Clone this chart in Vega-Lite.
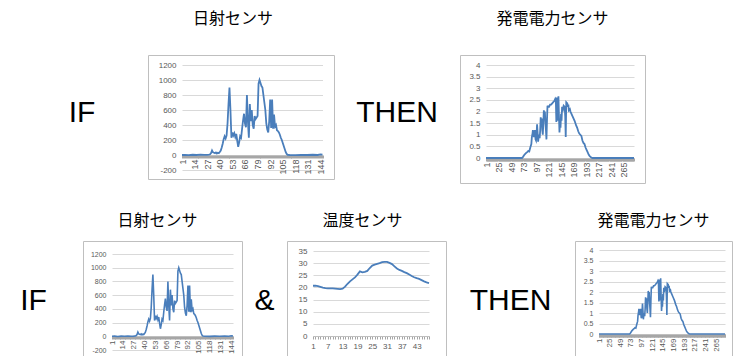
{
  "$schema": "https://vega.github.io/schema/vega-lite/v6.json",
  "padding": {"left": 0, "top": 10, "right": 0, "bottom": 0},
  "background": "white",
  "config": {
    "view": {"stroke": "#bfbfbf", "strokeWidth": 1},
    "axis": {"labelFont": "Liberation Sans", "labelColor": "#595959", "gridColor": "#d9d9d9", "domainColor": "#bfbfbf", "tickColor": "#a6a6a6"},
    "title": {"font": "Noto Sans CJK JP", "fontSize": 16, "fontWeight": "normal", "color": "#000000", "anchor": "middle"}
  },
  "datasets": {
    "solar": [
      {"i": 1, "v": 0}, {"i": 4, "v": 2}, {"i": 8, "v": -2}, {"i": 12, "v": 3}, {"i": 16, "v": 0}, {"i": 20, "v": 4}, {"i": 24, "v": 1}, {"i": 27, "v": 2}, {"i": 29, "v": 5}, {"i": 30, "v": 10},
      {"i": 31, "v": 25}, {"i": 32, "v": 60}, {"i": 33, "v": 35}, {"i": 34, "v": 30}, {"i": 35, "v": 25}, {"i": 36, "v": 35}, {"i": 37, "v": 20}, {"i": 38, "v": 30}, {"i": 39, "v": 25}, {"i": 40, "v": 40},
      {"i": 41, "v": 60}, {"i": 42, "v": 100}, {"i": 43, "v": 150}, {"i": 44, "v": 210}, {"i": 45, "v": 250}, {"i": 46, "v": 220}, {"i": 47, "v": 260}, {"i": 48, "v": 420}, {"i": 49, "v": 680}, {"i": 50, "v": 900},
      {"i": 51, "v": 600}, {"i": 52, "v": 230}, {"i": 53, "v": 300}, {"i": 54, "v": 260}, {"i": 55, "v": 290}, {"i": 56, "v": 240}, {"i": 57, "v": 280}, {"i": 58, "v": 190}, {"i": 59, "v": 110}, {"i": 60, "v": 170},
      {"i": 61, "v": 250}, {"i": 62, "v": 230}, {"i": 63, "v": 350}, {"i": 64, "v": 460}, {"i": 65, "v": 550}, {"i": 66, "v": 420}, {"i": 67, "v": 370}, {"i": 68, "v": 800}, {"i": 69, "v": 450}, {"i": 70, "v": 230},
      {"i": 71, "v": 680}, {"i": 72, "v": 450}, {"i": 73, "v": 600}, {"i": 74, "v": 400}, {"i": 75, "v": 350}, {"i": 76, "v": 520}, {"i": 77, "v": 480}, {"i": 78, "v": 500}, {"i": 79, "v": 520}, {"i": 80, "v": 950},
      {"i": 81, "v": 1000}, {"i": 82, "v": 960}, {"i": 83, "v": 920}, {"i": 84, "v": 900}, {"i": 85, "v": 800}, {"i": 86, "v": 700}, {"i": 87, "v": 600}, {"i": 88, "v": 420}, {"i": 89, "v": 340}, {"i": 90, "v": 300},
      {"i": 91, "v": 450}, {"i": 92, "v": 740}, {"i": 93, "v": 360}, {"i": 94, "v": 740}, {"i": 95, "v": 350}, {"i": 96, "v": 540}, {"i": 97, "v": 380}, {"i": 98, "v": 400}, {"i": 99, "v": 330}, {"i": 100, "v": 320},
      {"i": 101, "v": 300}, {"i": 102, "v": 270}, {"i": 103, "v": 230}, {"i": 104, "v": 200}, {"i": 105, "v": 160}, {"i": 106, "v": 120}, {"i": 107, "v": 80}, {"i": 108, "v": 40}, {"i": 109, "v": 15}, {"i": 110, "v": 3},
      {"i": 112, "v": 0}, {"i": 118, "v": -2}, {"i": 124, "v": 2}, {"i": 130, "v": 0}, {"i": 136, "v": 3}, {"i": 141, "v": 0}, {"i": 144, "v": 8}, {"i": 146, "v": 5}
    ],
    "power": [
      {"i": 1, "v": 0}, {"i": 70, "v": 0}, {"i": 72, "v": 0.05}, {"i": 75, "v": 0.15}, {"i": 78, "v": 0.22}, {"i": 80, "v": 0.25}, {"i": 82, "v": 0.3}, {"i": 84, "v": 0.28}, {"i": 86, "v": 0.45}, {"i": 88, "v": 0.6},
      {"i": 89, "v": 0.9}, {"i": 90, "v": 1.0}, {"i": 91, "v": 1.2}, {"i": 92, "v": 1.05}, {"i": 93, "v": 0.9}, {"i": 94, "v": 1.1}, {"i": 95, "v": 1.2}, {"i": 96, "v": 0.8}, {"i": 97, "v": 0.75}, {"i": 98, "v": 1.0},
      {"i": 99, "v": 1.45}, {"i": 100, "v": 1.1}, {"i": 101, "v": 0.7}, {"i": 102, "v": 0.9}, {"i": 103, "v": 1.0}, {"i": 104, "v": 0.85}, {"i": 105, "v": 1.2}, {"i": 106, "v": 1.75}, {"i": 107, "v": 1.6}, {"i": 108, "v": 1.7},
      {"i": 109, "v": 1.2}, {"i": 110, "v": 1.0}, {"i": 111, "v": 1.5}, {"i": 112, "v": 2.05}, {"i": 113, "v": 1.9}, {"i": 114, "v": 2.0}, {"i": 115, "v": 1.5}, {"i": 116, "v": 1.2}, {"i": 117, "v": 0.8}, {"i": 118, "v": 1.6},
      {"i": 119, "v": 2.25}, {"i": 120, "v": 2.2}, {"i": 122, "v": 2.2}, {"i": 124, "v": 2.3}, {"i": 126, "v": 2.3}, {"i": 128, "v": 2.35}, {"i": 130, "v": 2.4}, {"i": 132, "v": 2.45}, {"i": 134, "v": 2.55}, {"i": 135, "v": 2.5},
      {"i": 136, "v": 1.55}, {"i": 137, "v": 2.6}, {"i": 138, "v": 1.6}, {"i": 139, "v": 2.3}, {"i": 140, "v": 2.65}, {"i": 141, "v": 1.8}, {"i": 142, "v": 1.1}, {"i": 143, "v": 1.5}, {"i": 144, "v": 1.3}, {"i": 145, "v": 1.9},
      {"i": 146, "v": 1.6}, {"i": 147, "v": 2.2}, {"i": 148, "v": 2.0}, {"i": 150, "v": 2.25}, {"i": 152, "v": 2.2}, {"i": 153, "v": 1.8}, {"i": 154, "v": 0.9}, {"i": 155, "v": 2.4}, {"i": 157, "v": 2.35}, {"i": 158, "v": 2.2},
      {"i": 159, "v": 2.3}, {"i": 160, "v": 2.05}, {"i": 162, "v": 2.1}, {"i": 163, "v": 2.0}, {"i": 165, "v": 1.9}, {"i": 168, "v": 1.75}, {"i": 171, "v": 1.6}, {"i": 174, "v": 1.4}, {"i": 176, "v": 1.3}, {"i": 178, "v": 1.15},
      {"i": 180, "v": 1.05}, {"i": 182, "v": 1.0}, {"i": 184, "v": 0.95}, {"i": 186, "v": 0.75}, {"i": 188, "v": 0.65}, {"i": 190, "v": 0.6}, {"i": 192, "v": 0.45}, {"i": 194, "v": 0.35}, {"i": 196, "v": 0.25}, {"i": 198, "v": 0.15},
      {"i": 200, "v": 0.08}, {"i": 203, "v": 0.02}, {"i": 205, "v": 0}, {"i": 285, "v": 0}
    ],
    "temp": [
      {"i": 1, "v": 20.7}, {"i": 2, "v": 20.7}, {"i": 3, "v": 20.5}, {"i": 4, "v": 20.2}, {"i": 5, "v": 19.9}, {"i": 6, "v": 19.7}, {"i": 7, "v": 19.6}, {"i": 8, "v": 19.6}, {"i": 9, "v": 19.6}, {"i": 10, "v": 19.5},
      {"i": 11, "v": 19.4}, {"i": 12, "v": 19.3}, {"i": 13, "v": 19.5}, {"i": 14, "v": 20.3}, {"i": 15, "v": 21.5}, {"i": 16, "v": 22.5}, {"i": 17, "v": 23.3}, {"i": 18, "v": 24.1}, {"i": 19, "v": 25.3}, {"i": 20, "v": 26.6},
      {"i": 21, "v": 26.2}, {"i": 22, "v": 26.4}, {"i": 23, "v": 26.8}, {"i": 24, "v": 28.0}, {"i": 25, "v": 29.0}, {"i": 26, "v": 29.4}, {"i": 27, "v": 29.7}, {"i": 28, "v": 30.0}, {"i": 29, "v": 30.4}, {"i": 30, "v": 30.5},
      {"i": 31, "v": 30.5}, {"i": 32, "v": 30.1}, {"i": 33, "v": 29.6}, {"i": 34, "v": 28.7}, {"i": 35, "v": 27.8}, {"i": 36, "v": 27.2}, {"i": 37, "v": 26.8}, {"i": 38, "v": 26.3}, {"i": 39, "v": 25.9}, {"i": 40, "v": 25.3},
      {"i": 41, "v": 24.7}, {"i": 42, "v": 24.2}, {"i": 43, "v": 23.8}, {"i": 44, "v": 23.5}, {"i": 45, "v": 23.0}, {"i": 46, "v": 22.5}, {"i": 47, "v": 22.1}, {"i": 48, "v": 21.8}
    ]
  },
  "spacing": 28,
  "vconcat": [
    {
      "bounds": "flush",
      "spacing": 0,
      "hconcat": [
        {
          "width": 148, "height": 115, "view": {"stroke": null},
          "data": {"values": [{"t": "IF"}]},
          "mark": {"type": "text", "font": "Liberation Sans", "fontSize": 30, "color": "#000000", "align": "center", "baseline": "middle", "dx": 8},
          "encoding": {"text": {"field": "t"}}
        },
        {
          "width": 186, "height": 124,
          "title": {"text": "日射センサ", "offset": 28, "dx": -8},
          "data": {"name": "solar"},
          "mark": {"type": "line", "color": "#4a7ebb", "strokeWidth": 1.8},
          "encoding": {
            "x": {"field": "i", "type": "quantitative",
              "scale": {"domain": [1, 146], "range": [34, 174.5], "nice": false, "zero": false},
              "axis": {"title": null, "offset": -24, "grid": false, "tickCount": 150, "labelExpr": "(datum.value - 1) % 13 == 0 ? datum.label : ''", "labelAngle": -90, "labelFontSize": 9, "labelOverlap": false, "labelFlush": false, "tickSize": 3, "labelPadding": 1}},
            "y": {"field": "v", "type": "quantitative",
              "scale": {"domain": [-200, 1200], "range": [115, 10], "nice": false, "zero": false},
              "axis": {"title": null, "offset": -33, "values": [-200, 0, 200, 400, 600, 800, 1000, 1200], "labelExpr": "'' + datum.value", "ticks": false, "domain": false, "labelFontSize": 8, "labelPadding": 5}}
          }
        },
        {
          "width": 126, "height": 115, "view": {"stroke": null},
          "data": {"values": [{"t": "THEN"}]},
          "mark": {"type": "text", "font": "Liberation Sans", "fontSize": 30, "color": "#000000", "align": "center", "baseline": "middle"},
          "encoding": {"text": {"field": "t"}}
        },
        {
          "width": 185, "height": 128,
          "title": {"text": "発電電力センサ", "offset": 28},
          "data": {"name": "power"},
          "mark": {"type": "line", "color": "#4a7ebb", "strokeWidth": 1.8},
          "encoding": {
            "x": {"field": "i", "type": "quantitative",
              "scale": {"domain": [1, 285], "range": [26, 174], "nice": false, "zero": false},
              "axis": {"title": null, "offset": -25, "grid": false, "tickCount": 300, "labelExpr": "(datum.value - 1) % 24 == 0 ? datum.label : ''", "labelAngle": -90, "labelFontSize": 9, "labelOverlap": false, "labelFlush": false, "tickSize": 3, "labelPadding": 1}},
            "y": {"field": "v", "type": "quantitative",
              "scale": {"domain": [0, 4], "range": [103, 10], "nice": false, "zero": false},
              "axis": {"title": null, "offset": -25, "values": [0, 0.5, 1, 1.5, 2, 2.5, 3, 3.5, 4], "labelExpr": "'' + datum.value", "ticks": false, "domain": false, "labelFontSize": 8, "labelPadding": 5}}
          }
        }
      ]
    },
    {
      "bounds": "flush",
      "spacing": 16,
      "hconcat": [
        {
          "width": 67, "height": 119, "view": {"stroke": null},
          "data": {"values": [{"t": "IF"}]},
          "mark": {"type": "text", "font": "Liberation Sans", "fontSize": 30, "color": "#000000", "align": "center", "baseline": "middle"},
          "encoding": {"text": {"field": "t"}}
        },
        {
          "width": 159, "height": 116,
          "title": {"text": "日射センサ", "offset": 12, "dx": -5},
          "data": {"name": "solar"},
          "mark": {"type": "line", "color": "#4a7ebb", "strokeWidth": 1.6},
          "encoding": {
            "x": {"field": "i", "type": "quantitative",
              "scale": {"domain": [1, 146], "range": [29, 150], "nice": false, "zero": false},
              "axis": {"title": null, "offset": -21, "grid": false, "tickCount": 150, "labelExpr": "(datum.value - 1) % 13 == 0 ? datum.label : ''", "labelAngle": -90, "labelFontSize": 8, "labelOverlap": false, "labelFlush": false, "tickSize": 3, "labelPadding": 1}},
            "y": {"field": "v", "type": "quantitative",
              "scale": {"domain": [-200, 1200], "range": [109, 13], "nice": false, "zero": false},
              "axis": {"title": null, "offset": -28, "values": [-200, 0, 200, 400, 600, 800, 1000, 1200], "labelExpr": "'' + datum.value", "ticks": false, "domain": false, "labelFontSize": 7, "labelPadding": 5}}
          }
        },
        {
          "width": 13, "height": 119, "view": {"stroke": null},
          "data": {"values": [{"t": "&"}]},
          "mark": {"type": "text", "font": "Liberation Sans", "fontSize": 30, "color": "#000000", "align": "center", "baseline": "middle"},
          "encoding": {"text": {"field": "t"}}
        },
        {
          "width": 159, "height": 115,
          "title": {"text": "温度センサ", "offset": 12, "dx": -4},
          "data": {"name": "temp"},
          "mark": {"type": "line", "color": "#4a7ebb", "strokeWidth": 1.8},
          "encoding": {
            "x": {"field": "i", "type": "quantitative",
              "scale": {"domain": [1, 48], "range": [26, 142], "nice": false, "zero": false},
              "axis": {"title": null, "offset": -20, "grid": false, "tickCount": 50, "labelExpr": "(datum.value - 1) % 6 == 0 ? datum.label : ''", "labelAngle": 0, "labelFontSize": 8, "labelOverlap": false, "labelFlush": false, "tickSize": 3, "labelPadding": 3}},
            "y": {"field": "v", "type": "quantitative",
              "scale": {"domain": [0, 35], "range": [95, 10], "nice": false, "zero": false},
              "axis": {"title": null, "offset": -25, "values": [0, 5, 10, 15, 20, 25, 30, 35], "labelExpr": "'' + datum.value", "ticks": false, "domain": false, "labelFontSize": 8, "labelPadding": 5}}
          }
        },
        {
          "width": 97, "height": 119, "view": {"stroke": null},
          "data": {"values": [{"t": "THEN"}]},
          "mark": {"type": "text", "font": "Liberation Sans", "fontSize": 30, "color": "#000000", "align": "center", "baseline": "middle"},
          "encoding": {"text": {"field": "t"}}
        },
        {
          "width": 157, "height": 115,
          "title": {"text": "発電電力センサ", "offset": 12},
          "data": {"name": "power"},
          "mark": {"type": "line", "color": "#4a7ebb", "strokeWidth": 1.6},
          "encoding": {
            "x": {"field": "i", "type": "quantitative",
              "scale": {"domain": [1, 285], "range": [24, 150], "nice": false, "zero": false},
              "axis": {"title": null, "offset": -22, "grid": false, "tickCount": 300, "labelExpr": "(datum.value - 1) % 24 == 0 ? datum.label : ''", "labelAngle": -90, "labelFontSize": 8, "labelOverlap": false, "labelFlush": false, "tickSize": 3, "labelPadding": 1}},
            "y": {"field": "v", "type": "quantitative",
              "scale": {"domain": [0, 4], "range": [93, 9], "nice": false, "zero": false},
              "axis": {"title": null, "offset": -23, "values": [0, 0.5, 1, 1.5, 2, 2.5, 3, 3.5, 4], "labelExpr": "'' + datum.value", "ticks": false, "domain": false, "labelFontSize": 7, "labelPadding": 5}}
          }
        }
      ]
    }
  ]
}
